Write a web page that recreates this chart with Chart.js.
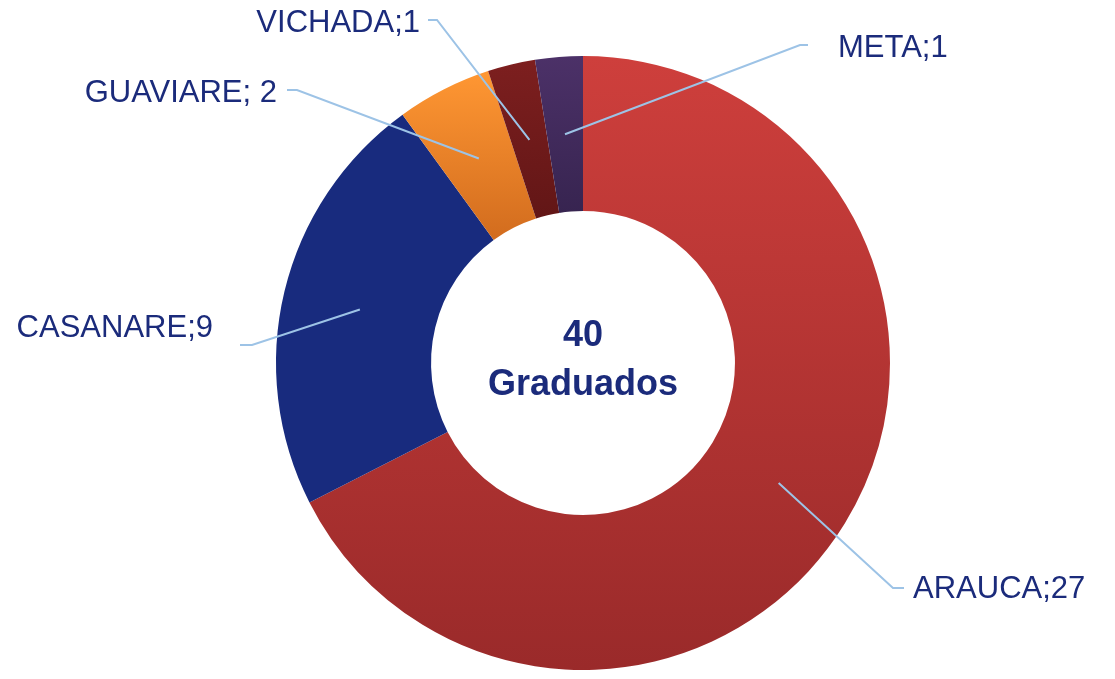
<!DOCTYPE html>
<html>
<head>
<meta charset="utf-8">
<script src="https://cdn.jsdelivr.net/npm/chart.js@4/dist/chart.umd.min.js"></script>
<style>
  html, body { margin: 0; padding: 0; background: #ffffff; }
  #wrap { width: 1115px; height: 679px; }
</style>
</head>
<body>
<div id="wrap"><canvas id="donutChart" width="1115" height="679"></canvas></div>
<script>
// Data
const departamentos = ['ARAUCA', 'CASANARE', 'GUAVIARE', 'VICHADA', 'META'];
const graduados = [27, 9, 2, 1, 1];
const etiquetas = ['ARAUCA;27', 'CASANARE;9', 'GUAVIARE; 2', 'VICHADA;1', 'META;1'];
const totalTexto = ['40', 'Graduados'];

// Slice colours (top -> bottom of each slice)
const coloresArriba = ['#CE3F3C', '#182B7E', '#FF9733', '#7D1F1F', '#4C3168'];
const coloresAbajo = ['#9A2A2A', '#182B7E', '#D26C1E', '#621616', '#372450'];

// Label placement, offsets from the doughnut centre in px
// elbow = where the leader bends, end = where it stops, text = label anchor
const labelLayout = [
    { elbow: [310, 225], end: [321, 225], text: [330, 226], align: 'left' },
    { elbow: [-331, -18], end: [-343, -18], text: [-370, -35], align: 'right' },
    { elbow: [-286, -273], end: [-296, -273], text: [-306, -270], align: 'right' },
    { elbow: [-146, -343], end: [-155, -343], text: [-163, -340], align: 'right' },
    { elbow: [217, -318], end: [225, -318], text: [255, -315], align: 'left' }
];

const textColor = '#1B2B7B';
const leaderColor = '#9DC3E6';

// Vertical gradient per slice, sized to the slice's own bounding box
const sliceGradients = {
    id: 'sliceGradients',
    beforeDatasetsDraw(chart) {
        const ctx = chart.ctx;
        chart.getDatasetMeta(0).data.forEach((arc, i) => {
            const p = arc.getProps(['x', 'y', 'startAngle', 'endAngle', 'innerRadius', 'outerRadius'], true);
            let minY = Infinity, maxY = -Infinity;
            for (let k = 0; k <= 40; k++) {
                const a = p.startAngle + (p.endAngle - p.startAngle) * k / 40;
                [p.innerRadius, p.outerRadius].forEach(r => {
                    const y = p.y + Math.sin(a) * r;
                    minY = Math.min(minY, y);
                    maxY = Math.max(maxY, y);
                });
            }
            const g = ctx.createLinearGradient(0, minY, 0, maxY);
            g.addColorStop(0, coloresArriba[i]);
            g.addColorStop(1, coloresAbajo[i]);
            arc.options.backgroundColor = g;
        });
    }
};

// Leader lines, labels and the centre text
const donutLabels = {
    id: 'donutLabels',
    afterDatasetsDraw(chart) {
        const ctx = chart.ctx;
        const meta = chart.getDatasetMeta(0);
        const cx = meta.data[0].x;
        const cy = meta.data[0].y;

        ctx.save();
        meta.data.forEach((arc, i) => {
            const start = arc.tooltipPosition();
            const lay = labelLayout[i];
            ctx.strokeStyle = leaderColor;
            ctx.lineWidth = 2;
            ctx.beginPath();
            ctx.moveTo(start.x, start.y);
            ctx.lineTo(cx + lay.elbow[0], cy + lay.elbow[1]);
            ctx.lineTo(cx + lay.end[0], cy + lay.end[1]);
            ctx.stroke();

            ctx.fillStyle = textColor;
            ctx.font = '31px "Liberation Sans", Arial, sans-serif';
            ctx.textAlign = lay.align;
            ctx.textBaseline = 'middle';
            ctx.fillText(etiquetas[i], cx + lay.text[0], cy + lay.text[1]);
        });

        ctx.fillStyle = textColor;
        ctx.font = 'bold 36px "Liberation Sans", Arial, sans-serif';
        ctx.textAlign = 'center';
        ctx.textBaseline = 'middle';
        ctx.fillText(totalTexto[0], cx, cy - 27);
        ctx.fillText(totalTexto[1], cx, cy + 22);
        ctx.restore();
    }
};

new Chart(document.getElementById('donutChart'), {
    type: 'doughnut',
    data: {
        labels: departamentos,
        datasets: [{
            data: graduados,
            backgroundColor: coloresArriba,
            borderWidth: 0
        }]
    },
    options: {
        responsive: false,
        animation: false,
        cutout: '49.5%',
        layout: {
            padding: { top: 56, bottom: 9, left: 276, right: 225 }
        },
        plugins: {
            legend: { display: false },
            tooltip: { enabled: false }
        }
    },
    plugins: [sliceGradients, donutLabels]
});
</script>
</body>
</html>
